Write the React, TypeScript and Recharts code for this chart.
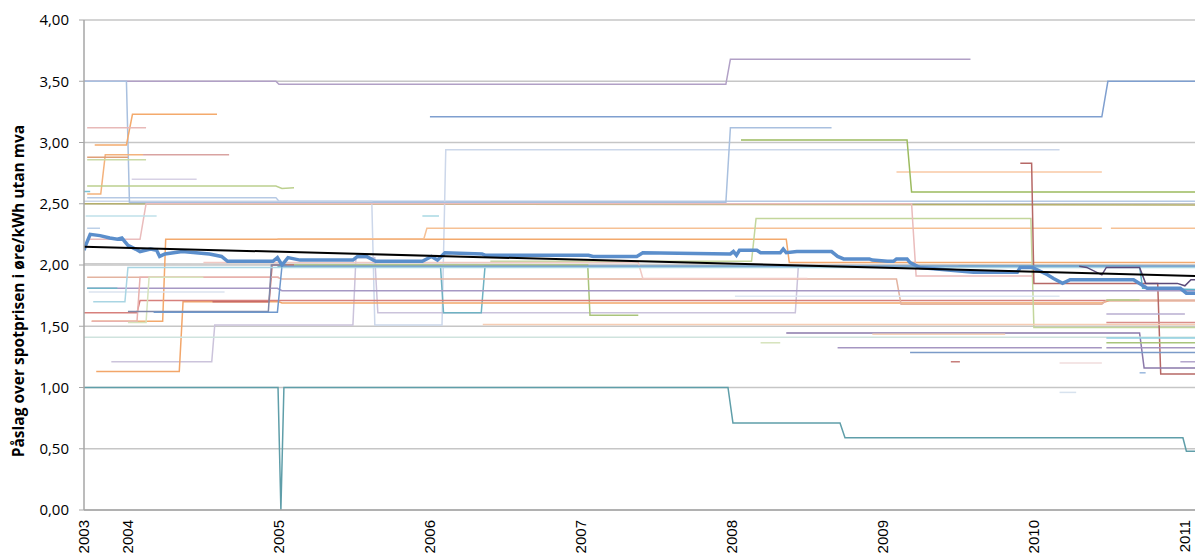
import React from 'react';
import { LineChart, Line, XAxis, YAxis, CartesianGrid } from 'recharts';

type P = [number, number | null];

const X_START = 2003.709;
const X_END = 2011.067;

// x-axis: first label sits at the first observation, the rest at 1 January
const yearTicks = [X_START, 2004, 2005, 2006, 2007, 2008, 2009, 2010, 2011];
const yearLabels = ['2003', '2004', '2005', '2006', '2007', '2008', '2009', '2010', '2011'];
const valueTicks = [0, 0.5, 1, 1.5, 2, 2.5, 3, 3.5, 4];

// average over all suppliers (thick blue)
const avgMarkup: P[] = [
  [2003.709, 2.12], [2003.72, 2.16], [2003.75, 2.25], [2003.815, 2.24], [2003.88, 2.22],
  [2003.93, 2.21], [2003.96, 2.22], [2004.0, 2.16], [2004.05, 2.13], [2004.08, 2.11],
  [2004.15, 2.13], [2004.19, 2.12], [2004.21, 2.07], [2004.245, 2.09], [2004.36, 2.11],
  [2004.54, 2.09], [2004.62, 2.07], [2004.66, 2.03], [2004.96, 2.03], [2004.99, 2.06],
  [2005.02, 2.0], [2005.06, 2.06], [2005.14, 2.04], [2005.49, 2.04], [2005.52, 2.07],
  [2005.58, 2.07], [2005.64, 2.03], [2005.95, 2.03], [2006.01, 2.07], [2006.05, 2.04],
  [2006.1, 2.1], [2006.345, 2.09], [2006.365, 2.08], [2007.05, 2.08], [2007.08, 2.07],
  [2007.37, 2.07], [2007.41, 2.1], [2007.99, 2.09], [2008.01, 2.11], [2008.03, 2.08],
  [2008.05, 2.12], [2008.165, 2.12], [2008.19, 2.1], [2008.32, 2.1], [2008.34, 2.13],
  [2008.36, 2.1], [2008.43, 2.11], [2008.66, 2.11], [2008.7, 2.07], [2008.74, 2.05],
  [2008.91, 2.05], [2008.93, 2.04], [2009.03, 2.03], [2009.07, 2.03], [2009.09, 2.05],
  [2009.16, 2.05], [2009.18, 2.02], [2009.245, 1.98], [2009.6, 1.94], [2009.89, 1.94],
  [2009.91, 1.98], [2009.99, 1.98], [2010.09, 1.92], [2010.13, 1.89], [2010.19, 1.85],
  [2010.24, 1.88], [2010.66, 1.88], [2010.75, 1.81], [2010.97, 1.81], [2011.01, 1.77],
  [2011.067, 1.77],
];
const trendLine: P[] = [[X_START, 2.15], [X_END, 1.91]];

// individual suppliers
const purpleTop: P[] = [[2003.709, 3.5], [2004.98, 3.5], [2005.0, 3.475], [2007.96, 3.475], [2007.99, 3.68], [2009.58, 3.68]];
const blueHigh: P[] = [[2003.709, 3.5], [2003.99, 3.5], [2004.01, 2.51], [2007.96, 2.51], [2007.99, 3.12], [2008.66, 3.12]];
const blueMid: P[] = [[2006.0, 3.21], [2010.45, 3.21], [2010.49, 3.5], [2011.067, 3.5]];
const paleBlueJump: P[] = [[2003.709, 2.52], [2005.615, 2.52], [2005.635, 1.51], [2006.08, 1.51], [2006.105, 2.94], [2010.17, 2.94]];
const lavenderLow: P[] = [[2003.89, 1.21], [2004.555, 1.21], [2004.575, 1.51], [2005.49, 1.51], [2005.51, 2.06], [2005.635, 2.06], [2005.655, 1.61], [2008.42, 1.61], [2008.44, 1.99], [2011.067, 1.99]];
const tealDip: P[] = [[2004.99, 1.99], [2006.07, 1.99], [2006.09, 1.61], [2006.34, 1.61], [2006.365, 1.99], [2011.067, 1.99]];
const greenDip: P[] = [[2005.0, 2.0], [2007.045, 2.0], [2007.06, 1.59], [2007.38, 1.59]];
const tealLow: P[] = [[2003.709, 1.0], [2004.994, 1.0], [2005.013, 0], [2005.033, 1.0], [2007.974, 1.0], [2008.007, 0.71], [2008.716, 0.71], [2008.749, 0.59], [2010.987, 0.59], [2011.01, 0.48], [2011.067, 0.48]];
const orangeLow: P[] = [[2003.79, 1.13], [2004.34, 1.13], [2004.365, 1.7], [2005.0, 1.7], [2005.02, 1.69], [2010.45, 1.69], [2010.5, 1.71], [2011.067, 1.71]];
const redA: P[] = [[2003.709, 1.61], [2004.06, 1.61], [2004.08, 1.71], [2011.067, 1.71]];
const redB: P[] = [[2004.56, 1.7], [2004.935, 1.7], [2004.955, 2.0], [2005.1, 2.0]];
const tanA: P[] = [[2003.73, 1.9], [2004.99, 1.9], [2005.02, 1.885], [2009.09, 1.885], [2009.12, 1.68], [2010.45, 1.68], [2010.48, 1.71], [2011.067, 1.71]];
const orangeMid: P[] = [[2003.76, 1.54], [2004.23, 1.54], [2004.25, 2.21], [2008.36, 2.21], [2008.38, 2.02], [2011.067, 2.02]];
const orangeHigh: P[] = [[2004.99, 2.215], [2005.96, 2.215], [2005.98, 2.3], [2010.45, 2.3], [2010.46, null], [2010.51, 2.3], [2011.067, 2.3]];
const peachMid: P[] = [[2009.09, 2.76], [2010.45, 2.76]];
const greenTop: P[] = [[2008.06, 3.02], [2009.16, 3.02], [2009.19, 2.595], [2011.067, 2.595]];
const greenLight: P[] = [[2006.4, 2.03], [2008.13, 2.03], [2008.16, 2.38], [2009.98, 2.38], [2010.0, 1.49], [2011.067, 1.49]];
const olive: P[] = [[2003.709, 2.5], [2011.067, 2.49]];
const redDrop: P[] = [[2009.91, 2.83], [2009.985, 2.83], [2010.0, 1.85], [2010.82, 1.85], [2010.84, 1.11], [2011.067, 1.11]];
const purpleDrop: P[] = [[2008.36, 1.445], [2010.7, 1.445], [2010.73, 1.16], [2011.067, 1.16]];
const darkPurple: P[] = [[2010.3, 1.99], [2010.35, 1.98], [2010.45, 1.92], [2010.48, 1.98], [2010.7, 1.98], [2010.74, 1.85], [2010.95, 1.85], [2011.0, 1.83], [2011.04, 1.88], [2011.067, 1.88]];
const purpleMid: P[] = [[2003.73, 1.81], [2004.99, 1.81], [2005.02, 1.79], [2011.067, 1.79]];
const paleBlueShort: P[] = [[2003.74, 1.78], [2004.64, 1.78]];
const pinkRise: P[] = [[2003.76, 1.54], [2004.06, 1.54], [2004.08, 1.9], [2005.0, 1.9]];
const greenRise: P[] = [[2004.0, 1.53], [2004.12, 1.53], [2004.14, 1.9], [2004.5, 1.9]];
const aquaShort: P[] = [[2003.73, 1.81], [2003.93, 1.81]];
const aquaLow: P[] = [[2003.709, 1.41], [2011.067, 1.41]];
const peachLow: P[] = [[2006.35, 1.515], [2011.067, 1.515]];
const redLow: P[] = [[2010.48, 1.53], [2011.067, 1.53]];
const purpleLow: P[] = [[2008.7, 1.325], [2010.45, 1.325], [2010.46, null], [2010.48, 1.325], [2011.067, 1.325]];
const blueLow: P[] = [[2009.18, 1.285], [2011.067, 1.285]];
const greenShort: P[] = [[2008.19, 1.365], [2008.32, 1.365]];
const peachShort: P[] = [[2008.93, 1.435], [2009.81, 1.435]];
const paleBlueLate: P[] = [[2008.02, 1.745], [2010.17, 1.745]];
const purpleShort: P[] = [[2010.48, 1.6], [2011.0, 1.6]];
const greenLate: P[] = [[2010.48, 1.365], [2011.067, 1.365]];
const aquaLate: P[] = [[2010.48, 1.405], [2011.067, 1.405]];
const brownTiny: P[] = [[2009.45, 1.21], [2009.51, 1.21]];
const pinkShort: P[] = [[2010.17, 1.2], [2010.45, 1.2]];
const blueTiny: P[] = [[2010.7, 1.12], [2010.74, 1.12]];
const purpleTiny: P[] = [[2010.97, 1.21], [2011.067, 1.21]];
const grayBlueTiny: P[] = [[2010.17, 0.96], [2010.28, 0.96]];
const pinkHigh: P[] = [[2003.73, 2.21], [2004.08, 2.21], [2004.12, 2.5], [2009.19, 2.5], [2009.22, 1.91], [2009.99, 1.91]];
const tealRight: P[] = [[2009.5, 1.99], [2010.7, 1.99], [2010.72, 1.81], [2011.067, 1.8]];
const greenShortLate: P[] = [[2010.48, 1.715], [2010.7, 1.715]];
const pinkMid: P[] = [[2004.5, 2.02], [2007.38, 2.02], [2007.41, 1.89], [2008.5, 1.89]];
const navyShort: P[] = [[2004.0, 1.62], [2004.93, 1.62], [2004.95, 2.0], [2005.05, 2.0]];
const blueStep: P[] = [[2004.17, 1.615], [2004.99, 1.615], [2005.02, 1.99], [2011.067, 1.99]];
const aquaStep: P[] = [[2003.77, 1.7], [2003.98, 1.7], [2004.0, 1.98], [2011.067, 1.98]];
const paleBlueTop: P[] = [[2003.73, 2.55], [2004.98, 2.55], [2005.0, 2.52], [2011.067, 2.52]];
const orangeTop: P[] = [[2003.78, 2.98], [2003.99, 2.98], [2004.03, 3.23], [2004.59, 3.23]];
const pinkTop: P[] = [[2003.73, 3.12], [2004.12, 3.12]];
const orangeRise: P[] = [[2003.73, 2.58], [2003.82, 2.58], [2003.85, 2.9], [2004.1, 2.9]];
const mauve: P[] = [[2004.1, 2.9], [2004.67, 2.9]];
const brownEarly: P[] = [[2003.73, 2.88], [2004.0, 2.88]];
const greenEarly: P[] = [[2003.73, 2.86], [2004.12, 2.86]];
const greenWide: P[] = [[2003.73, 2.645], [2004.98, 2.645], [2005.02, 2.625], [2005.1, 2.63]];
const lavenderEarly: P[] = [[2004.025, 2.7], [2004.455, 2.7]];
const paleBlueEarly: P[] = [[2003.72, 2.4], [2004.19, 2.4]];
const paleBlueTiny: P[] = [[2003.73, 2.3], [2003.815, 2.3]];
const tealTiny: P[] = [[2003.709, 2.6], [2003.75, 2.6]];
const aquaTiny: P[] = [[2005.95, 2.4], [2006.06, 2.4]];
const grayFlat: P[] = [[2003.709, 2.01], [2011.067, 2.0]];

const thinLines: { pts: P[]; color: string }[] = [
  { pts: grayFlat, color: '#cccccc' },
  { pts: olive, color: '#b4ae6a' },
  { pts: paleBlueTop, color: '#b6c9e4' },
  { pts: paleBlueJump, color: '#ccd7ea' },
  { pts: purpleTop, color: '#b1a0c6' },
  { pts: blueHigh, color: '#a9c0df' },
  { pts: blueMid, color: '#7f9fcf' },
  { pts: lavenderLow, color: '#cbc3db' },
  { pts: tealDip, color: '#6fb2c2' },
  { pts: greenDip, color: '#a9c47a' },
  { pts: tealLow, color: '#5f9ea9' },
  { pts: orangeLow, color: '#f2a66a' },
  { pts: redA, color: '#d7807c' },
  { pts: redB, color: '#c86a66' },
  { pts: tanA, color: '#e3b3a0' },
  { pts: orangeMid, color: '#f3a96d' },
  { pts: orangeHigh, color: '#f6c195' },
  { pts: peachMid, color: '#f8c9a5' },
  { pts: greenTop, color: '#9cbb5f' },
  { pts: greenLight, color: '#c3d69b' },
  { pts: redDrop, color: '#b66866' },
  { pts: purpleDrop, color: '#8b79aa' },
  { pts: purpleMid, color: '#a698c4' },
  { pts: paleBlueShort, color: '#dbe3ef' },
  { pts: pinkRise, color: '#e8b1ae' },
  { pts: greenRise, color: '#d6e3bc' },
  { pts: aquaShort, color: '#6fb5c8' },
  { pts: aquaLow, color: '#cfe3de' },
  { pts: peachLow, color: '#f6cdb4' },
  { pts: redLow, color: '#d98e8a' },
  { pts: purpleLow, color: '#a596c2' },
  { pts: blueLow, color: '#7b9bc8' },
  { pts: greenShort, color: '#d6e3bc' },
  { pts: peachShort, color: '#fad5b9' },
  { pts: paleBlueLate, color: '#dde6f1' },
  { pts: purpleShort, color: '#b9aed1' },
  { pts: greenLate, color: '#a8c47c' },
  { pts: aquaLate, color: '#8fcfe0' },
  { pts: brownTiny, color: '#c77f7c' },
  { pts: pinkShort, color: '#f0dcdc' },
  { pts: blueTiny, color: '#9ab8de' },
  { pts: purpleTiny, color: '#b3a6cc' },
  { pts: grayBlueTiny, color: '#d7e2ee' },
  { pts: pinkHigh, color: '#eabcbc' },
  { pts: tealRight, color: '#5db3c8' },
  { pts: greenShortLate, color: '#b2cb86' },
  { pts: pinkMid, color: '#f1c9c4' },
  { pts: navyShort, color: '#8088a8' },
  { pts: blueStep, color: '#6f98cc' },
  { pts: aquaStep, color: '#a9d5e3' },
  { pts: orangeTop, color: '#f4aa6c' },
  { pts: pinkTop, color: '#e8b9b8' },
  { pts: orangeRise, color: '#f4b27c' },
  { pts: mauve, color: '#d9a3a1' },
  { pts: brownEarly, color: '#df9f78' },
  { pts: greenEarly, color: '#c9d9a6' },
  { pts: greenWide, color: '#bcd08e' },
  { pts: lavenderEarly, color: '#d7d1e5' },
  { pts: paleBlueEarly, color: '#bfe0ea' },
  { pts: paleBlueTiny, color: '#bcd0e8' },
  { pts: tealTiny, color: '#7cc2d4' },
  { pts: aquaTiny, color: '#a9d8e3' },
  { pts: darkPurple, color: '#5b4a7a' },
];

const toRows = (pts: P[]) => pts.map(([x, y]) => ({ x, y }));

const YearTick = (props: any) => {
  const { x, y, index } = props;
  return (
    <text
      x={x}
      y={y}
      transform={`rotate(-90 ${x} ${y})`}
      textAnchor="end"
      dy="0.36em"
      fontSize={15}
      fontFamily="'Liberation Sans', Arial, sans-serif"
      fill="#000"
    >
      {yearLabels[index]}
    </text>
  );
};

export default function App() {
  return (
    <div style={{ position: 'absolute', left: 0, top: 0, width: 1195, height: 556, background: '#fff', overflow: 'hidden' }}>
      <LineChart width={1195} height={556} margin={{ top: 20, right: 0, bottom: 0, left: 0 }}>
        <CartesianGrid vertical={false} stroke="#c6c6c6" strokeWidth={1.5} />
        <XAxis
          type="number"
          dataKey="x"
          domain={[X_START, X_END]}
          ticks={yearTicks}
          interval={0}
          allowDataOverflow
          tickLine={false}
          tickMargin={4}
          height={46}
          axisLine={{ stroke: '#a6a6a6', strokeWidth: 1.5 }}
          tick={<YearTick />}
        />
        <YAxis
          type="number"
          domain={[0, 4]}
          ticks={valueTicks}
          interval={0}
          width={84}
          tickSize={5}
          tickMargin={10}
          axisLine={{ stroke: '#a6a6a6', strokeWidth: 1.5 }}
          tickLine={{ stroke: '#a6a6a6' }}
          tick={{ fill: '#000', fontSize: 15, fontFamily: "'Open Sans', sans-serif" }}
          tickFormatter={(v: number) => v.toFixed(2).replace('.', ',')}
        />
        {thinLines.map((l, i) => (
          <Line
            key={i}
            data={toRows(l.pts)}
            dataKey="y"
            type="linear"
            stroke={l.color}
            strokeWidth={1.5}
            dot={false}
            activeDot={false}
            isAnimationActive={false}
          />
        ))}
        <Line data={toRows(avgMarkup)} dataKey="y" type="linear" stroke="#5b8ecb" strokeWidth={3.5} dot={false} activeDot={false} isAnimationActive={false} />
        <Line data={toRows(trendLine)} dataKey="y" type="linear" stroke="#000" strokeWidth={2} dot={false} activeDot={false} isAnimationActive={false} />
      </LineChart>
      <div
        style={{
          position: 'absolute',
          left: 18,
          top: 291,
          transform: 'translate(-50%, -50%) rotate(-90deg)',
          whiteSpace: 'nowrap',
          fontFamily: "'Open Sans', sans-serif",
          fontWeight: 700,
          fontSize: 15.5,
          color: '#000',
        }}
      >
        Påslag over spotprisen i øre/kWh utan mva
      </div>
    </div>
  );
}
